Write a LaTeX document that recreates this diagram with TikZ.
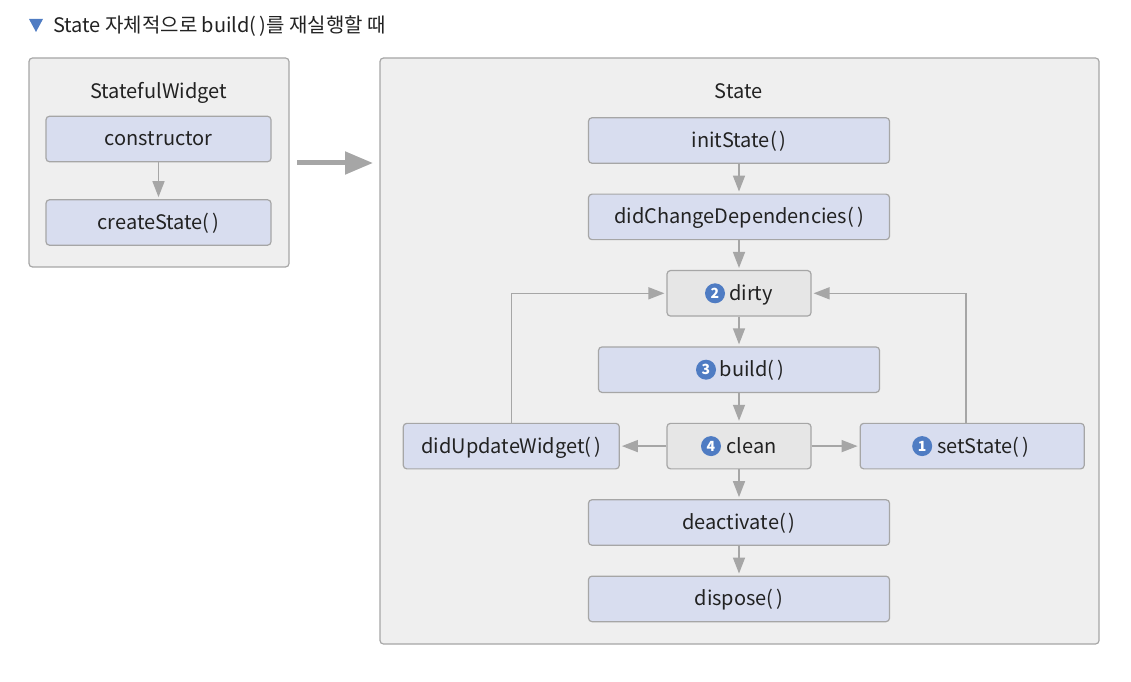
\documentclass[tikz,border=0pt]{standalone}
\usepackage{fontspec}
\setmainfont{Noto Sans CJK KR}[Scale=1.0]
\usetikzlibrary{arrows.meta}
\usetikzlibrary{positioning}

\definecolor{edgegray}{HTML}{A6A6A6}
\definecolor{panelfill}{HTML}{EFEFEF}
\definecolor{methodfill}{HTML}{D8DDEF}
\definecolor{statusfill}{HTML}{E6E6E6}
\definecolor{badgeblue}{HTML}{4F7CC3}
\definecolor{inktext}{HTML}{222222}

\newcommand{\callparens}{(\kern3pt)}

\tikzset{
  panel/.style={draw=edgegray,fill=panelfill,line width=1.2pt,rounded corners=3.5pt,inner sep=0pt},
  method/.style={draw=edgegray,fill=methodfill,line width=1.2pt,rounded corners=3.5pt,inner sep=0pt,
    minimum height=45.5pt,text height=17pt,text depth=3pt,text=inktext,font=\fontsize{20}{24}\selectfont},
  status/.style={method,fill=statusfill,minimum width=144pt},
  heading/.style={inner sep=0pt,text=inktext,font=\fontsize{20}{24}\selectfont},
  badge/.style={circle,fill=badgeblue,text=white,inner sep=0pt,minimum size=20pt,font=\fontsize{14}{14}\bfseries\selectfont},
  flow/.style={draw=edgegray,line width=1.5pt,shorten >=2pt,-{Triangle[length=16pt,width=12pt]}},
}

\begin{document}
\begin{tikzpicture}[x=1pt,y=1pt]

  \useasboundingbox (0,0) rectangle (1131,681);

  % title line
  \fill [badgeblue] (29,662) -- (43,662) -- (36,649) -- cycle;
  \node [heading,anchor=west] (title) at (53,655) {State 자체적으로 build\callparens{}를 재실행할 때};

  % panels
  \node [panel,minimum width=260pt,minimum height=209pt] (widget) at (159,518.5) {};
  \node [panel,minimum width=719pt,minimum height=586pt] (state) at (739.5,330) {};
  \node [heading] (widgetname) at (158.5,588.5) {StatefulWidget};
  \node [heading] (statename) at (738.5,590) {State};

  % left column
  \node [method,minimum width=225pt] (constructor) at (158.5,542) {constructor};
  \node [method,minimum width=225pt,below=36.8pt of constructor] (createstate) {createState\callparens};

  % right column
  \node [method,minimum width=301pt] (initstate) at (739,540.5) {initState\callparens};
  \node [method,minimum width=301pt,below=29.7pt of initstate] (didchange) {didChangeDependencies\callparens};
  \node [status,below=29.7pt of didchange] (dirty) {\hspace{24pt}dirty};
  \node [method,minimum width=281pt,below=29.7pt of dirty] (build) {\hspace{26pt}build\callparens};
  \node [status,below=29.7pt of build] (clean) {\hspace{25pt}clean};
  \node [method,minimum width=301pt,below=29.7pt of clean] (deactivate) {deactivate\callparens};
  \node [method,minimum width=301pt,below=29.7pt of deactivate] (dispose) {dispose\callparens};
  \node [method,minimum width=216pt,left=46.5pt of clean] (didupdate) {didUpdateWidget\callparens};
  \node [method,minimum width=224pt,right=48pt of clean] (setstate) {\hspace{22pt}setState\callparens};

  % numbers
  \node [badge] (one) at ([xshift=-50pt]setstate.center) {1};
  \node [badge] (two) at ([xshift=-24pt]dirty.center) {2};
  \node [badge] (three) at ([xshift=-33pt]build.center) {3};
  \node [badge] (four) at ([xshift=-28pt]clean.center) {4};

  % the wide arrow between the panels
  \coordinate (widgetout) at (297,518);
  \coordinate (statein) at (373,518);
  \draw [edgegray,line width=5pt,-{Triangle[length=28pt,width=22pt]}] (widgetout) -- (statein);

  \path [every edge/.style=flow]
    (constructor) edge (createstate)
    (initstate)   edge (didchange)
    (didchange)   edge (dirty)
    (dirty)       edge (build)
    (build)       edge (clean)
    (clean)       edge (deactivate)
    (deactivate)  edge (dispose)
    (clean)       edge (didupdate)
    (clean)       edge (setstate);

  \draw [flow] (didupdate.north) |- (dirty.west);
  \draw [flow] ([xshift=-6pt]setstate.north) |- (dirty.east);

\end{tikzpicture}
\end{document}
